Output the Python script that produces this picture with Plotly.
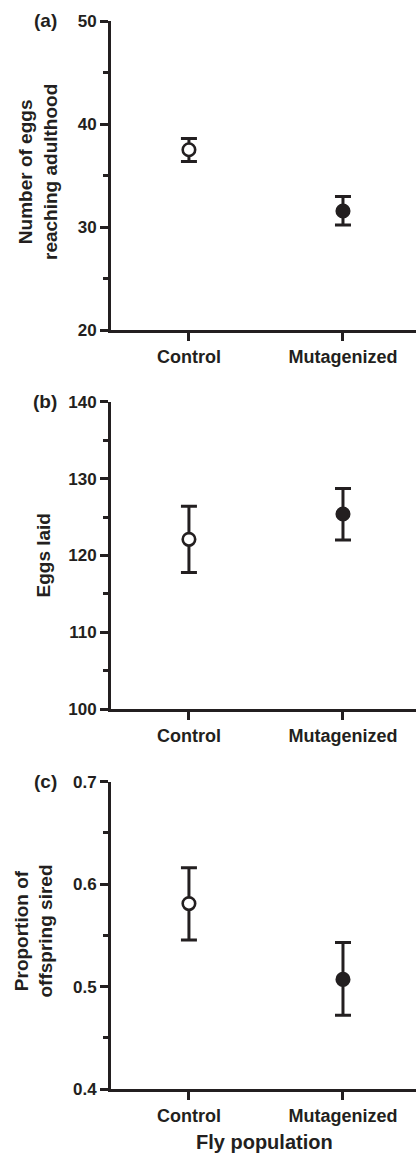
import plotly.graph_objects as go

categories = ["Control", "Mutagenized"]
x_pos = [0, 1]

adult_mean = [37.5, 31.55]
adult_upper = [38.6, 32.95]
adult_lower = [36.35, 30.2]

eggs_mean = [122.1, 125.4]
eggs_upper = [126.4, 128.7]
eggs_lower = [117.8, 122.0]

prop_mean = [0.581, 0.507]
prop_upper = [0.616, 0.543]
prop_lower = [0.5455, 0.472]

panel_labels = ["(a)", "(b)", "(c)"]
y_titles = ["Number of eggs<br>reaching adulthood", "Eggs laid", "Proportion of<br>offspring sired"]
x_title = "Fly population"

W, H = 416, 1153
INK = "#231f20"
FONT = "Liberation Sans, Arial, Helvetica, sans-serif"

# pixel layout of the three panels (top, bottom)
panels_px = [(21, 330), (401.7, 709.3), (781.7, 1089)]
x_left_px = 111

fig = go.Figure()

series = [
    (adult_mean, adult_upper, adult_lower, [20, 50], 10, 5),
    (eggs_mean, eggs_upper, eggs_lower, [100, 140], 10, 5),
    (prop_mean, prop_upper, prop_lower, [0.4, 0.7], 0.1, 0.05),
]

for i, (m, up, lo, yr, dt, mdt) in enumerate(series):
    xa = "x" if i == 0 else f"x{i+1}"
    ya = "y" if i == 0 else f"y{i+1}"
    plus = [u - v for u, v in zip(up, m)]
    minus = [v - l for v, l in zip(m, lo)]
    fig.add_trace(go.Scatter(
        x=x_pos, y=m, mode="markers", xaxis=xa, yaxis=ya, showlegend=False,
        marker=dict(size=12.5, color=["white", INK], symbol="circle",
                    line=dict(color=INK, width=2.6)),
        error_y=dict(type="data", array=plus, arrayminus=minus, visible=True,
                     color=INK, thickness=3, width=8),
    ))
    top, bot = panels_px[i]
    lay_x = "xaxis" if i == 0 else f"xaxis{i+1}"
    lay_y = "yaxis" if i == 0 else f"yaxis{i+1}"
    fig.layout[lay_x] = dict(
        domain=[x_left_px / W, 1.0], range=[-0.506, 1.474],
        tickvals=x_pos, ticktext=categories, ticks="outside", ticklen=8,
        tickwidth=3, tickcolor=INK, showline=True, linewidth=3, linecolor=INK,
        showgrid=False, zeroline=False, anchor=ya,
        tickfont=dict(family=FONT, size=18, color=INK, weight="bold"),
        fixedrange=True,
    )
    fig.layout[lay_y] = dict(
        domain=[1 - bot / H, 1 - top / H], range=yr, dtick=dt, tick0=yr[0],
        ticks="outside", ticklen=8, tickwidth=3, tickcolor=INK,
        showline=True, linewidth=3, linecolor=INK, showgrid=False,
        zeroline=False, anchor=xa,
        minor=dict(dtick=mdt, ticks="outside", ticklen=5, tickwidth=2.5,
                   tickcolor=INK, showgrid=False),
        tickfont=dict(family=FONT, size=17, color=INK, weight="bold"),
        fixedrange=True,
    )

annots = []
label_y = [21, 401.7, 781.7]
title_pos = [(37.5, 172.5), (43, 555.5), (33.5, 931)]
for i in range(3):
    annots.append(dict(
        text=panel_labels[i], xref="paper", yref="paper",
        x=45 / W, y=1 - label_y[i] / H, xanchor="center", yanchor="middle",
        showarrow=False, font=dict(family=FONT, size=19, color=INK, weight="bold"),
    ))
    tx, ty = title_pos[i]
    annots.append(dict(
        text=y_titles[i], xref="paper", yref="paper",
        x=tx / W, y=1 - ty / H, xanchor="center", yanchor="middle",
        textangle=-90, showarrow=False,
        font=dict(family=FONT, size=19, color=INK, weight="bold"),
    ))
annots.append(dict(
    text=x_title, xref="paper", yref="paper", x=264 / W, y=1 - 1141.7 / H,
    xanchor="center", yanchor="middle", showarrow=False,
    font=dict(family=FONT, size=20, color=INK, weight="bold"),
))

fig.update_layout(
    width=W, height=H, margin=dict(l=0, r=0, t=0, b=0, autoexpand=False),
    paper_bgcolor="white", plot_bgcolor="white", annotations=annots,
    font=dict(family=FONT, color=INK),
)

fig.write_html(
    "out.html",
    config={"displayModeBar": False},
    post_script="document.body.style.margin='0';document.body.style.overflow='hidden';",
)
